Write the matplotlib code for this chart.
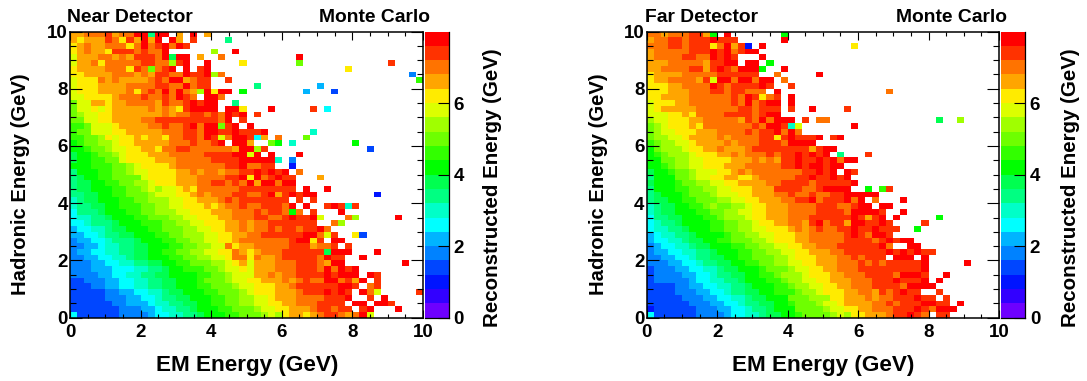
import numpy as np
import matplotlib
matplotlib.use("Agg")
import matplotlib.pyplot as plt
from matplotlib.colors import ListedColormap, BoundaryNorm
from matplotlib.ticker import MultipleLocator

# One colour per 0.4 GeV step of reconstructed energy
LEVEL_CODES = "0123456789abcdefghij"
LEVEL_COLORS = ["#6e00ff", "#3200ff", "#0014ff", "#0046ff", "#0082ff",
                "#00b4ff", "#00ffff", "#00ffc8", "#00ff82", "#00ff50",
                "#00ff00", "#32ff00", "#6eff00", "#a0ff00", "#dcff00",
                "#ffeb00", "#ffa500", "#ff7300", "#ff3200", "#ff0000"]
LEVEL_EDGES = [i * 0.4 for i in range(21)]
CBAR_TICKS = [0, 2, 4, 6]

# Cells: top row first, one character per 0.2 GeV EM bin
NEAR_ROWS = [
"gghhhighhj j8jj.g.j.g",
"gfgggihfig jgj.jg.i.. ..8",
"fghgghhhfh jhijhji",
"fghggfiiih ihhj...... d..j",
"eggghhghgi iihj9jj.g. .h........ ..j",
"egghfhhhhh iihhdij..j ....f..... ..c....... .....i",
"fgggghhhfi hchij.j.ij .......... .........f",
"ffgggghhhg hgiihhjiij dh........ .......... ........4.",
"efffhghggg ghihjjghii ..i....... .......... .........b",
"efffgggghh hhiihhjhii ......8... .....5....",
"efffgggghf hihjhjhgdj fjj.a..... ...5...3..",
"eeffffghhh ihhihjih.j jh",
"ceeggfgghh hhgihhijij j..8",
"ceefefgggg ghghgfijjj j.jjf...j. ....i.6...",
"cdeeffgggg ggghghhiih ihjij.i",
"cceeffgggg hhiiiiiiii ihj.i",
"bbceeefggg ghhihhijhj jcij.j",
"bcceeeffgg ggghhhiihj jiijiiij.. ....7",
"bbccdfeffg fggfhhiihj iehjji6g.h ...c",
"abccddeffg gggghhhihh ij.jjg..ca .7........ a",
"aabccdeeff ggfhhiihhh hhhgjjdi.. .......... ..3",
"9aabccdeff fggghhhhhi iiijjej.j. ..j",
"9aabbcceff ffggghhhhh iiiijjjjj7 .4",
"aaabbbccde ffffghhhhh hhiijhhii. .2",
"8aaabbccde effffgghgh hghhiijiji j.h",
"89aabbcccc effffggghh hhiijfjhij ii...g",
"899aabbccd defffggghh iihihjgjjh jj",
"899aaabbcc dedeefgfhh hhhhiiiiii ii.j..j",
"8899aabbcc cdeeeffghg hhhiihhijg ijijj..... ...2",
"7899aaabbc cdddeeffgg ghihiiiiii i.i.i",
"78899aabbb ccddeefffg fghhihhiii hj.j..iji7 i",
"68889aaabb ccdddeefff ggghhhihii hah.i...j",
"677889aaab bcccddeeff fgghhhiihh ijiije...h d.....j",
"6678889aaa bbbccddeef ffgghghhii iiiii..hd",
"56677899aa abbcccddee ffgghghhih iihiijh",
"556678899a aabbccddde effgghhiii iiijjhei.. f3",
"4556678889 aaabbccdde effghhhhhh hijjfi.jj",
"4455677889 9aaabbccdd eehfgghhhh hiiighhi.i",
"4556677889 9aabbccdde effhgfghhh iiiiii9jjj ...j",
"4455667789 9aaabbccdd eefhhfhggh iiiiihjii. .j",
"4445566778 899aabbccc ddefgegggh hhiiihgjj. .......j",
"4445556667 7889aabbbc cdeefegggh hhiiihjhji j",
"4444556677 8899aaaabb ccdeeegghg hhiiiijijj j.ji",
"3344455667 78899aaabc ccdeeffggg hghihhjjhi gj.i",
"3334455667 78899aaabb cccdeefffg ghiiiiiijj i.hi",
"3333344556 677899aaab bcccdefffg gghiiijiji .jhe.....i",
"3333344455 6678899aaa bbccddeefg gghhhhiiij ..i.j",
"3333334455 56778899aa bbccddeeff gghhhiiii. jj.jji",
"3333333444 55677889aa abbcccdeef fggghiihii .ij...j",
"6333333444 456677889a aabbcccded fggfghiihg hje",
]

FAR_ROWS = [
"hhghhhiiga .j.......a",
"ghhiihiiij iii......j",
"hhhiihiiif hjgi2.j... .........f",
"ghhhhhiiij ijhijj",
"ghhhhiihhj iji...j",
"ggghhhhhgi ijj.jj.a",
"gghhhhiigi jihjjja..j",
"fgggghhhhh iiiiii..h. ....j",
"fgghhhhgie jjhjjhjj.h",
"fffgghhhhj ihiiiiji.. i",
"fffggghhhi ihiihhh.j. .......... ....h",
"ffgggghhhh hhihjifhi. j",
"efffgghhhh hhihjhijj. j",
"efggggghhh hhhiihiii. i..j....i",
"eeeffgfhhh hiiiihijj",
"deefffgghh hhhgihjhjj j.i.hh.... .......... .9..d",
"cdefffgfhh hhhhhihjji 7e.......j",
"cdeefffggg hhhhihiijh jh",
"cddeefgggg hghhhhiifi jiiij.ij",
"bcddeefggg ghghhhiiih jjjj",
"acdddeffgg hggghiiiii iiigijj",
"abcdddefff gghghhhihi ijijij.8.. .i",
"aaccddeeff ffggghghgi ijiijijhjj",
"aabcddeeff fggghhhhhi ijijjijj",
"9aabccdeee ffghghhhhh hhiijij.ji",
"8aaaccdeef fggffghhhh hiijiijij",
"9aaabccdde effgggghhi iiihiiiiij",
"8aaabbccdd eefffgggii iihhijjjj. .a.bi",
"89aaabcccd eeeffggghh ihhihhiijj jjj",
"899aabbccc ddeeffgggh hiijhiiijh j.h...j",
"7899aabbcd ccddeffggg hhhhiiihhi jj.jj",
"7899aaabbc cddeeffggg hhhhiiiihj jjji..j",
"68899aaabb cdddeffggg hhhiiiiiij igij.j.... .a",
"67889aaaab bccddeffgg hhgijhiigj jiiji....i",
"677889aaab bccddeefff ghghihhiij iijiii..a",
"5677889aaa abccddeeff fgghhhhhij ihjji",
"56677899aa bbcccddeff fgghhhhhii iihijijj",
"456677899a aabbccddee ffgghhhiii iiijh..jj",
"4556677889 aaabbccdde effggghhii iiiijijiji i",
"4455667889 9aabbcccdd efffggghhi hiii.jjj.j",
"4445566788 99aabbccdd eeffggghhh ihihiiiiij .....j",
"3444556677 899aaabccc deeffgghhh iiiiiiiiij",
"3444455667 8899aabbcd ddefffgghh hiiiihjjji ..j",
"3444445667 7889aaabbc ddeeffgggh hhiiijiiij .j",
"3333445566 77889aaabb cddeeffggh hhiiiihjjj j",
"3333444556 678899aabb bcddefffgg hhgihijii. .i",
"3333344455 6677899aaa cccdddffgg ghghhiiiji i.i",
"3333334445 56678899aa bcccdeefgg gghhihiiij jii.j",
"2333333444 55667889aa accccdeeff gghhhiiiji hjjj",
"6333333444 456677899a abccccdedf fggghiijih .ii",
]

XLABEL = "EM Energy (GeV)"
YLABEL = "Hadronic Energy (GeV)"
CBAR_LABEL = "Reconstructed Energy (GeV)"

W, H = 1087, 381
FONT = "Liberation Sans"
plt.rcParams["font.family"] = FONT
plt.rcParams["font.weight"] = "bold"

cmap = ListedColormap(LEVEL_COLORS)
norm = BoundaryNorm(LEVEL_EDGES, cmap.N)


def decode(rows):
    grid = []
    for row in rows:
        text = row.replace(" ", "").ljust(50, ".")[:50]
        grid.append([(LEVEL_EDGES[LEVEL_CODES.index(c)] + 0.2) if c != "." else np.nan
                     for c in text])
    return np.ma.masked_invalid(np.array(grid)[::-1])


def px_axes(l, r, t, b):
    return plt.gcf().add_axes([l / W, 1 - b / H, (r - l) / W, (b - t) / H])


def panel(rows, left, right, cb_left, cb_right, title, title_x, mc_x,
          ylabel_x, xlabel_x, cblabel_x):
    top, bottom = 31.5, 317.7
    ax = px_axes(left, right, top, bottom)
    edges = np.linspace(0, 10, 51)
    mesh = ax.pcolormesh(edges, edges, decode(rows), cmap=cmap, norm=norm,
                         linewidth=0, antialiased=False, rasterized=True)
    ax.set_xlim(0, 10)
    ax.set_ylim(0, 10)
    ax.xaxis.set_major_locator(MultipleLocator(2))
    ax.yaxis.set_major_locator(MultipleLocator(2))
    ax.xaxis.set_minor_locator(MultipleLocator(0.5))
    ax.yaxis.set_minor_locator(MultipleLocator(0.5))
    ax.tick_params(axis="x", which="major", direction="in", top=True,
                   length=5.8, width=0.8, labelsize=13.5, pad=4.5)
    ax.tick_params(axis="x", which="minor", direction="in", top=True,
                   length=2.9, width=0.8)
    ax.tick_params(axis="y", which="major", direction="in", right=True,
                   length=8.5, width=0.8, labelsize=13.5, pad=1.5)
    ax.tick_params(axis="y", which="minor", direction="in", right=True,
                   length=4.3, width=0.8)
    ax.set_axisbelow(False)
    for s in ax.spines.values():
        s.set_linewidth(1.1)

    cax = px_axes(cb_left, cb_right, top, bottom)
    cb = plt.gcf().colorbar(mesh, cax=cax, spacing="proportional", drawedges=False)
    cb.set_ticks(CBAR_TICKS)
    cb.set_ticklabels([str(v) for v in CBAR_TICKS])
    cax.minorticks_off()
    cax.tick_params(axis="y", direction="in", length=8, width=0.8,
                    labelsize=13.5, pad=3.5)
    cb.outline.set_visible(False)
    for side in ("right", "bottom"):
        cax.spines[side].set_visible(True)
        cax.spines[side].set_linewidth(0.9)

    fig = plt.gcf()
    fig.text(title_x / W, 1 - 17 / H, title, fontsize=13.9, va="center", ha="left")
    fig.text(mc_x / W, 1 - 17 / H, "Monte Carlo", fontsize=13.9, va="center", ha="left")
    fig.text(ylabel_x / W, 1 - 184.5 / H, YLABEL, fontsize=14.6, rotation=90,
             va="center", ha="center")
    fig.text(xlabel_x / W, 1 - 365.5 / H, XLABEL, fontsize=16.2, va="center", ha="center")
    fig.text(cblabel_x / W, 1 - 188 / H, CBAR_LABEL, fontsize=14.8, rotation=90,
             va="center", ha="center")


fig = plt.figure(figsize=(W / 100, H / 100), dpi=100, facecolor="white")
panel(NEAR_ROWS, 70, 423, 425, 448.5, "Near Detector", 67, 319, 21, 247, 493)
panel(FAR_ROWS, 646.7, 999, 1001, 1025, "Far Detector", 645, 896, 598, 823, 1070)
fig.savefig("out.png", dpi=100, facecolor="white")
